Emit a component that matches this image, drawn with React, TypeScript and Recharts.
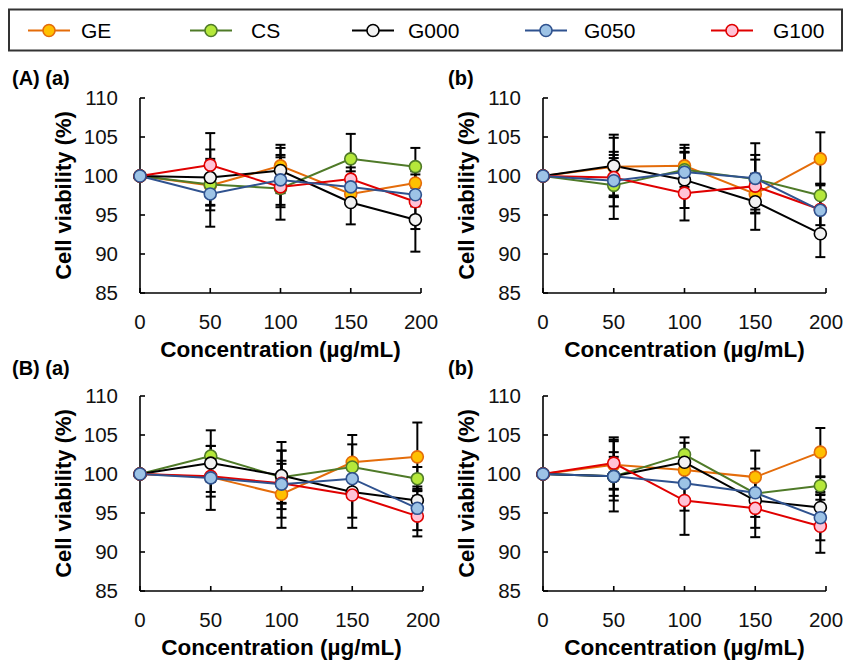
import React from "react";
import { LineChart, Line, XAxis, YAxis, ErrorBar } from "recharts";

const concentrations = [0, 50, 100, 150, 196];
const xTicks = [0, 50, 100, 150, 200];
const yTicks = [85, 90, 95, 100, 105, 110];

// series order: GE, CS, G000, G050, G100
const seriesNames = ["GE", "CS", "G000", "G050", "G100"];
const lineColors = ["#e46c0a", "#4f7a28", "#000000", "#2f528f", "#e00000"];
const fillColors = ["#ffc000", "#b5e83a", "#f2f2f2", "#9dc3e6", "#ffc3d6"];
// draw order (G050 ends up on top)
const drawOrder = [0, 1, 2, 4, 3];

// (A)(a)
const meanAa = [
  [100, 98.8, 101.3, 97.7, 99.1],
  [100, 98.9, 98.4, 102.2, 101.2],
  [100, 99.8, 100.7, 96.6, 94.4],
  [100, 97.7, 99.5, 98.6, 97.6],
  [100, 101.4, 98.6, 99.6, 96.7],
];
const errAa = [
  [0, 2.5, 2.7, 1.2, 1.5],
  [0, 3.3, 4.0, 3.2, 2.4],
  [0, 3.6, 2.9, 2.8, 4.1],
  [0, 4.2, 3.2, 2.0, 1.5],
  [0, 4.1, 2.6, 1.5, 3.5],
];

// (A)(b)
const meanAb = [
  [100, 101.2, 101.3, 97.7, 102.2],
  [100, 98.8, 100.8, 99.6, 97.5],
  [100, 101.3, 99.5, 96.7, 92.6],
  [100, 99.4, 100.5, 99.7, 95.6],
  [100, 99.8, 97.8, 98.7, 95.7],
];
const errAb = [
  [0, 3.7, 2.7, 2.0, 3.4],
  [0, 4.3, 2.8, 3.1, 1.5],
  [0, 4.0, 3.6, 3.6, 3.0],
  [0, 3.3, 2.5, 4.5, 3.4],
  [0, 2.5, 3.5, 3.4, 2.0],
];

// (B)(a)
const meanBa = [
  [100, 99.6, 97.4, 101.5, 102.2],
  [100, 102.3, 99.6, 100.9, 99.4],
  [100, 101.4, 99.8, 97.7, 96.6],
  [100, 99.5, 98.7, 99.4, 95.6],
  [100, 99.7, 98.8, 97.3, 94.6],
];
const errBa = [
  [0, 2.5, 4.3, 3.5, 4.4],
  [0, 3.3, 3.4, 2.9, 1.5],
  [0, 2.2, 4.3, 3.3, 1.5],
  [0, 4.1, 4.3, 2.0, 2.8],
  [0, 2.0, 2.5, 4.2, 2.6],
];

// (B)(b)
const meanBb = [
  [100, 101.2, 100.5, 99.6, 102.8],
  [100, 99.7, 102.5, 97.5, 98.5],
  [100, 99.7, 101.5, 96.6, 95.7],
  [100, 99.7, 98.8, 97.6, 94.4],
  [100, 101.4, 96.6, 95.6, 93.3],
];
const errBb = [
  [0, 3.2, 2.0, 3.4, 3.1],
  [0, 4.5, 2.2, 2.0, 1.1],
  [0, 3.1, 2.5, 3.5, 2.0],
  [0, 2.5, 3.5, 3.1, 2.9],
  [0, 3.3, 4.4, 3.7, 3.4],
];

const FONT = "'Liberation Sans', Arial, sans-serif";

function buildRows(means: number[][], errs: number[][]) {
  return concentrations.map((c, i) => {
    const row: Record<string, number> = { x: c };
    seriesNames.forEach((name, k) => {
      row[name] = means[k][i];
      row[name + "_err"] = errs[k][i];
    });
    return row;
  });
}

function Panel({ means, errs, left, top, width }: { means: number[][]; errs: number[][]; left: number; top: number; width: number }) {
  const rows = buildRows(means, errs);
  return (
    <div style={{ position: "absolute", left, top }}>
      <LineChart width={width} height={306} data={rows} margin={{ top: 38, right: 18, bottom: 6, left: 0 }}>
        <XAxis
          dataKey="x"
          type="number"
          domain={[0, 200]}
          ticks={xTicks}
          height={67}
          tickSize={-5}
          tickMargin={26}
          axisLine={{ stroke: "#000", strokeWidth: 1.6 }}
          tickLine={{ stroke: "#000", strokeWidth: 1.6 }}
          tick={{ fill: "#111", fontSize: 20.5, fontFamily: FONT }}
          label={{
            value: "Concentration (µg/mL)",
            position: "insideBottom",
            offset: 3,
            style: { fontSize: 22.5, fontWeight: "bold", fill: "#000", fontFamily: FONT },
          }}
        />
        <YAxis
          type="number"
          domain={[85, 110]}
          ticks={yTicks}
          width={140}
          tickSize={-5}
          tickMargin={27}
          axisLine={{ stroke: "#000", strokeWidth: 1.6 }}
          tickLine={{ stroke: "#000", strokeWidth: 1.6 }}
          tick={{ fill: "#111", fontSize: 20.5, fontFamily: FONT }}
          label={{
            value: "Cell viability (%)",
            angle: -90,
            position: "insideLeft",
            offset: 63,
            style: { textAnchor: "middle", fontSize: 22, fontWeight: "bold", fill: "#000", fontFamily: FONT },
          }}
        />
        {drawOrder.map((k) => (
          <Line
            key={seriesNames[k]}
            dataKey={seriesNames[k]}
            stroke={lineColors[k]}
            strokeWidth={2}
            dot={{ r: 6, fill: fillColors[k], stroke: lineColors[k], strokeWidth: 1.6 }}
            activeDot={false}
            isAnimationActive={false}
          >
            <ErrorBar dataKey={seriesNames[k] + "_err"} width={5} stroke="#000" strokeWidth={2} direction="y" />
          </Line>
        ))}
      </LineChart>
    </div>
  );
}

const legendMarkerX = [49, 211, 373, 546, 732];
const legendTextX = [81, 251, 408, 584, 773];

export default function App() {
  return (
    <div style={{ position: "absolute", left: 0, top: 0, width: 847, height: 664, background: "#fff", fontFamily: FONT }}>
      <svg width={847} height={664} style={{ position: "absolute", left: 0, top: 0 }}>
        <rect x={9} y={9.5} width={833} height={41} fill="#fff" stroke="#333" strokeWidth={2} />
        {seriesNames.map((name, k) => (
          <g key={name}>
            <line x1={legendMarkerX[k] - 21} x2={legendMarkerX[k] + 21} y1={30.5} y2={30.5} stroke={lineColors[k]} strokeWidth={2} />
            <circle cx={legendMarkerX[k]} cy={30.5} r={6} fill={fillColors[k]} stroke={lineColors[k]} strokeWidth={1.6} />
            <text x={legendTextX[k]} y={38} fontSize={21} fill="#000" fontFamily={FONT}>
              {name}
            </text>
          </g>
        ))}
        <text x={12} y={85} fontSize={20} fontWeight="bold" fontFamily={FONT}>(A) (a)</text>
        <text x={448} y={85} fontSize={20} fontWeight="bold" fontFamily={FONT}>(b)</text>
        <text x={12} y={375} fontSize={20} fontWeight="bold" fontFamily={FONT}>(B) (a)</text>
        <text x={448} y={375} fontSize={20} fontWeight="bold" fontFamily={FONT}>(b)</text>
      </svg>
      <Panel means={meanAa} errs={errAa} left={0} top={60} width={439} />
      <Panel means={meanBa} errs={errBa} left={0} top={358} width={441} />
      <Panel means={meanAb} errs={errAb} left={403} top={60} width={441} />
      <Panel means={meanBb} errs={errBb} left={403} top={358} width={441} />
    </div>
  );
}
